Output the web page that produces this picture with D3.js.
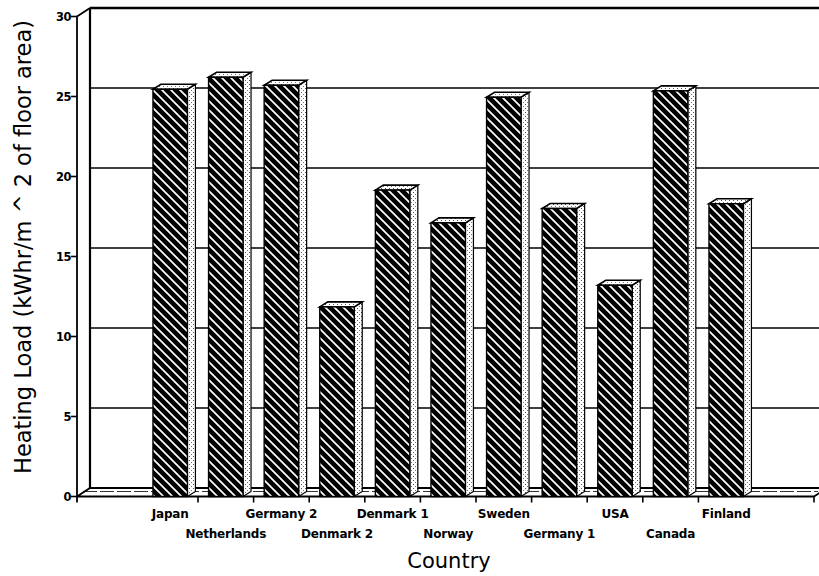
<!DOCTYPE html>
<html>
<head>
<meta charset="utf-8">
<script src="https://cdn.jsdelivr.net/npm/d3@7/dist/d3.min.js"></script>
<style>
  html, body { margin: 0; padding: 0; background: #fff; }
  svg { display: block; }
</style>
</head>
<body>
<svg id="chart" width="819" height="576"></svg>
<script>
// Heating load per country (kWhr per m^2 of floor area)
const categories = ["Japan", "Netherlands", "Germany 2", "Denmark 2", "Denmark 1", "Norway",
                    "Sweden", "Germany 1", "USA", "Canada", "Finland"];
const heatingLoad = [25.45, 26.2, 25.7, 11.85, 19.15, 17.1, 24.95, 18.0, 13.2, 25.35, 18.3];
const yTicks = [0, 5, 10, 15, 20, 25, 30];
const yTitle = "Heating Load (kWhr/m ^ 2 of floor area)";
const xTitle = "Country";

const svg = d3.select("#chart");
const W = 819;

// front plane of the 3-D box
const axisX = 77, axisEnd = 814;
const y = d3.scaleLinear().domain([0, 30]).range([496.5, 16.5]);
const x = d3.scaleBand().domain(categories)
  .range([142.4, 142.4 + 55.6 * 11]).paddingInner(0.38).paddingOuter(0.19);

// depth offsets: back wall and bar thickness
const wall = { dx: 13, dy: -8.5 };
const bar = { dx: 8, dy: -5 };

const defs = svg.append("defs");
const hatch = defs.append("pattern").attr("id", "hatch")
  .attr("patternUnits", "userSpaceOnUse").attr("width", 9).attr("height", 9);
hatch.append("rect").attr("width", 9).attr("height", 9).attr("fill", "#000");
hatch.append("path").attr("d", "M-2,-2L11,11M-2,7L2,11M7,-2L11,2")
  .attr("stroke", "#fff").attr("stroke-width", 1.7);

const dots = defs.append("pattern").attr("id", "dots")
  .attr("patternUnits", "userSpaceOnUse").attr("width", 4).attr("height", 4);
dots.append("rect").attr("width", 4).attr("height", 4).attr("fill", "#fff");
dots.append("rect").attr("x", 1).attr("y", 0).attr("width", 1).attr("height", 1).attr("fill", "#555");
dots.append("rect").attr("x", 3).attr("y", 2).attr("width", 1).attr("height", 1).attr("fill", "#777");

// back wall gridlines
const g = svg.append("g");
g.selectAll("line.grid").data(yTicks).join("line").attr("class", "grid")
  .attr("x1", axisX + wall.dx).attr("x2", W)
  .attr("y1", d => y(d) + wall.dy).attr("y2", d => y(d) + wall.dy)
  .attr("stroke", "#000").attr("stroke-width", d => d === 30 ? 2.4 : 1.5);

// left side wall
g.append("line").attr("x1", axisX + wall.dx).attr("x2", axisX + wall.dx)
  .attr("y1", y(30) + wall.dy).attr("y2", y(0) + wall.dy)
  .attr("stroke", "#000").attr("stroke-width", 2.2);
g.append("line").attr("x1", axisX).attr("y1", y(30))
  .attr("x2", axisX + wall.dx).attr("y2", y(30) + wall.dy)
  .attr("stroke", "#000").attr("stroke-width", 1.8);

// floor slab
g.append("path")
  .attr("d", `M${axisX},${y(0)}L${axisX + wall.dx},${y(0) + wall.dy}L${W},${y(0) + wall.dy}` +
             `M${axisX},${y(0)}L${axisEnd},${y(0)}L${axisEnd + wall.dx * 0.6},${y(0) + wall.dy * 0.6}`)
  .attr("fill", "none").attr("stroke", "#000").attr("stroke-width", 1.8);
g.append("line").attr("x1", axisX + 6).attr("x2", axisEnd + 4)
  .attr("y1", y(0) - 5).attr("y2", y(0) - 5)
  .attr("stroke", "#000").attr("stroke-width", 0.8).attr("stroke-dasharray", "14,3");

// front y axis
g.append("line").attr("x1", axisX).attr("x2", axisX).attr("y1", y(30)).attr("y2", y(0) + 6)
  .attr("stroke", "#000").attr("stroke-width", 1.8);
g.selectAll("line.ytick").data(yTicks).join("line").attr("class", "ytick")
  .attr("x1", axisX - 6).attr("x2", axisX).attr("y1", d => y(d)).attr("y2", d => y(d))
  .attr("stroke", "#000").attr("stroke-width", 1.6);
g.selectAll("text.ylab").data(yTicks).join("text").attr("class", "ylab")
  .attr("x", axisX - 6).attr("y", d => y(d) + 4)
  .attr("text-anchor", "end").attr("font-family", "DejaVu Sans").attr("font-weight", "bold")
  .attr("font-size", 11.5).attr("letter-spacing", -0.5).text(d => d);

// bars: side face, top face, hatched front face
const step = x.step(), bw = x.bandwidth();
const bars = g.selectAll("g.bar").data(categories.map((c, i) => ({ c, v: heatingLoad[i] })))
  .join("g").attr("class", "bar");
bars.append("path")
  .attr("d", d => {
    const x1 = x(d.c) + bw, yt = y(d.v), yb = y(0);
    return `M${x1},${yb}L${x1},${yt}L${x1 + bar.dx},${yt + bar.dy}L${x1 + bar.dx},${yb + bar.dy}Z`;
  })
  .attr("fill", "url(#dots)").attr("stroke", "#000").attr("stroke-width", 1.2);
bars.append("path")
  .attr("d", d => {
    const x0 = x(d.c), x1 = x0 + bw, yt = y(d.v);
    return `M${x0},${yt}L${x0 + bar.dx},${yt + bar.dy}L${x1 + bar.dx},${yt + bar.dy}L${x1},${yt}Z`;
  })
  .attr("fill", "url(#dots)").attr("stroke", "#000").attr("stroke-width", 1.6);
bars.append("rect")
  .attr("x", d => x(d.c)).attr("y", d => y(d.v))
  .attr("width", bw).attr("height", d => y(0) - y(d.v))
  .attr("fill", "url(#hatch)").attr("stroke", "#000").attr("stroke-width", 1.4);

// x axis ticks between categories and at the end
const xTickPos = categories.slice(0, -1).map(c => x(c) + bw / 2 + step / 2).concat([axisEnd]);
g.selectAll("line.xtick").data(xTickPos).join("line").attr("class", "xtick")
  .attr("x1", d => d).attr("x2", d => d).attr("y1", y(0)).attr("y2", y(0) + 6)
  .attr("stroke", "#000").attr("stroke-width", 1.6);

// category labels in two staggered rows
g.selectAll("text.xlab").data(categories).join("text").attr("class", "xlab")
  .attr("x", d => x(d) + bw / 2)
  .attr("y", (d, i) => i % 2 === 0 ? 518 : 538)
  .attr("text-anchor", "middle").attr("font-family", "DejaVu Sans").attr("font-weight", "bold")
  .attr("font-size", 12).attr("letter-spacing", -0.2).text(d => d);

// axis titles
svg.append("text").attr("x", 449).attr("y", 568).attr("text-anchor", "middle")
  .attr("font-family", "DejaVu Sans").attr("font-size", 21).text(xTitle);
svg.append("text").attr("transform", "translate(31,247) rotate(-90)").attr("text-anchor", "middle")
  .attr("font-family", "DejaVu Sans").attr("font-size", 22.5).text(yTitle);
</script>
</body>
</html>
